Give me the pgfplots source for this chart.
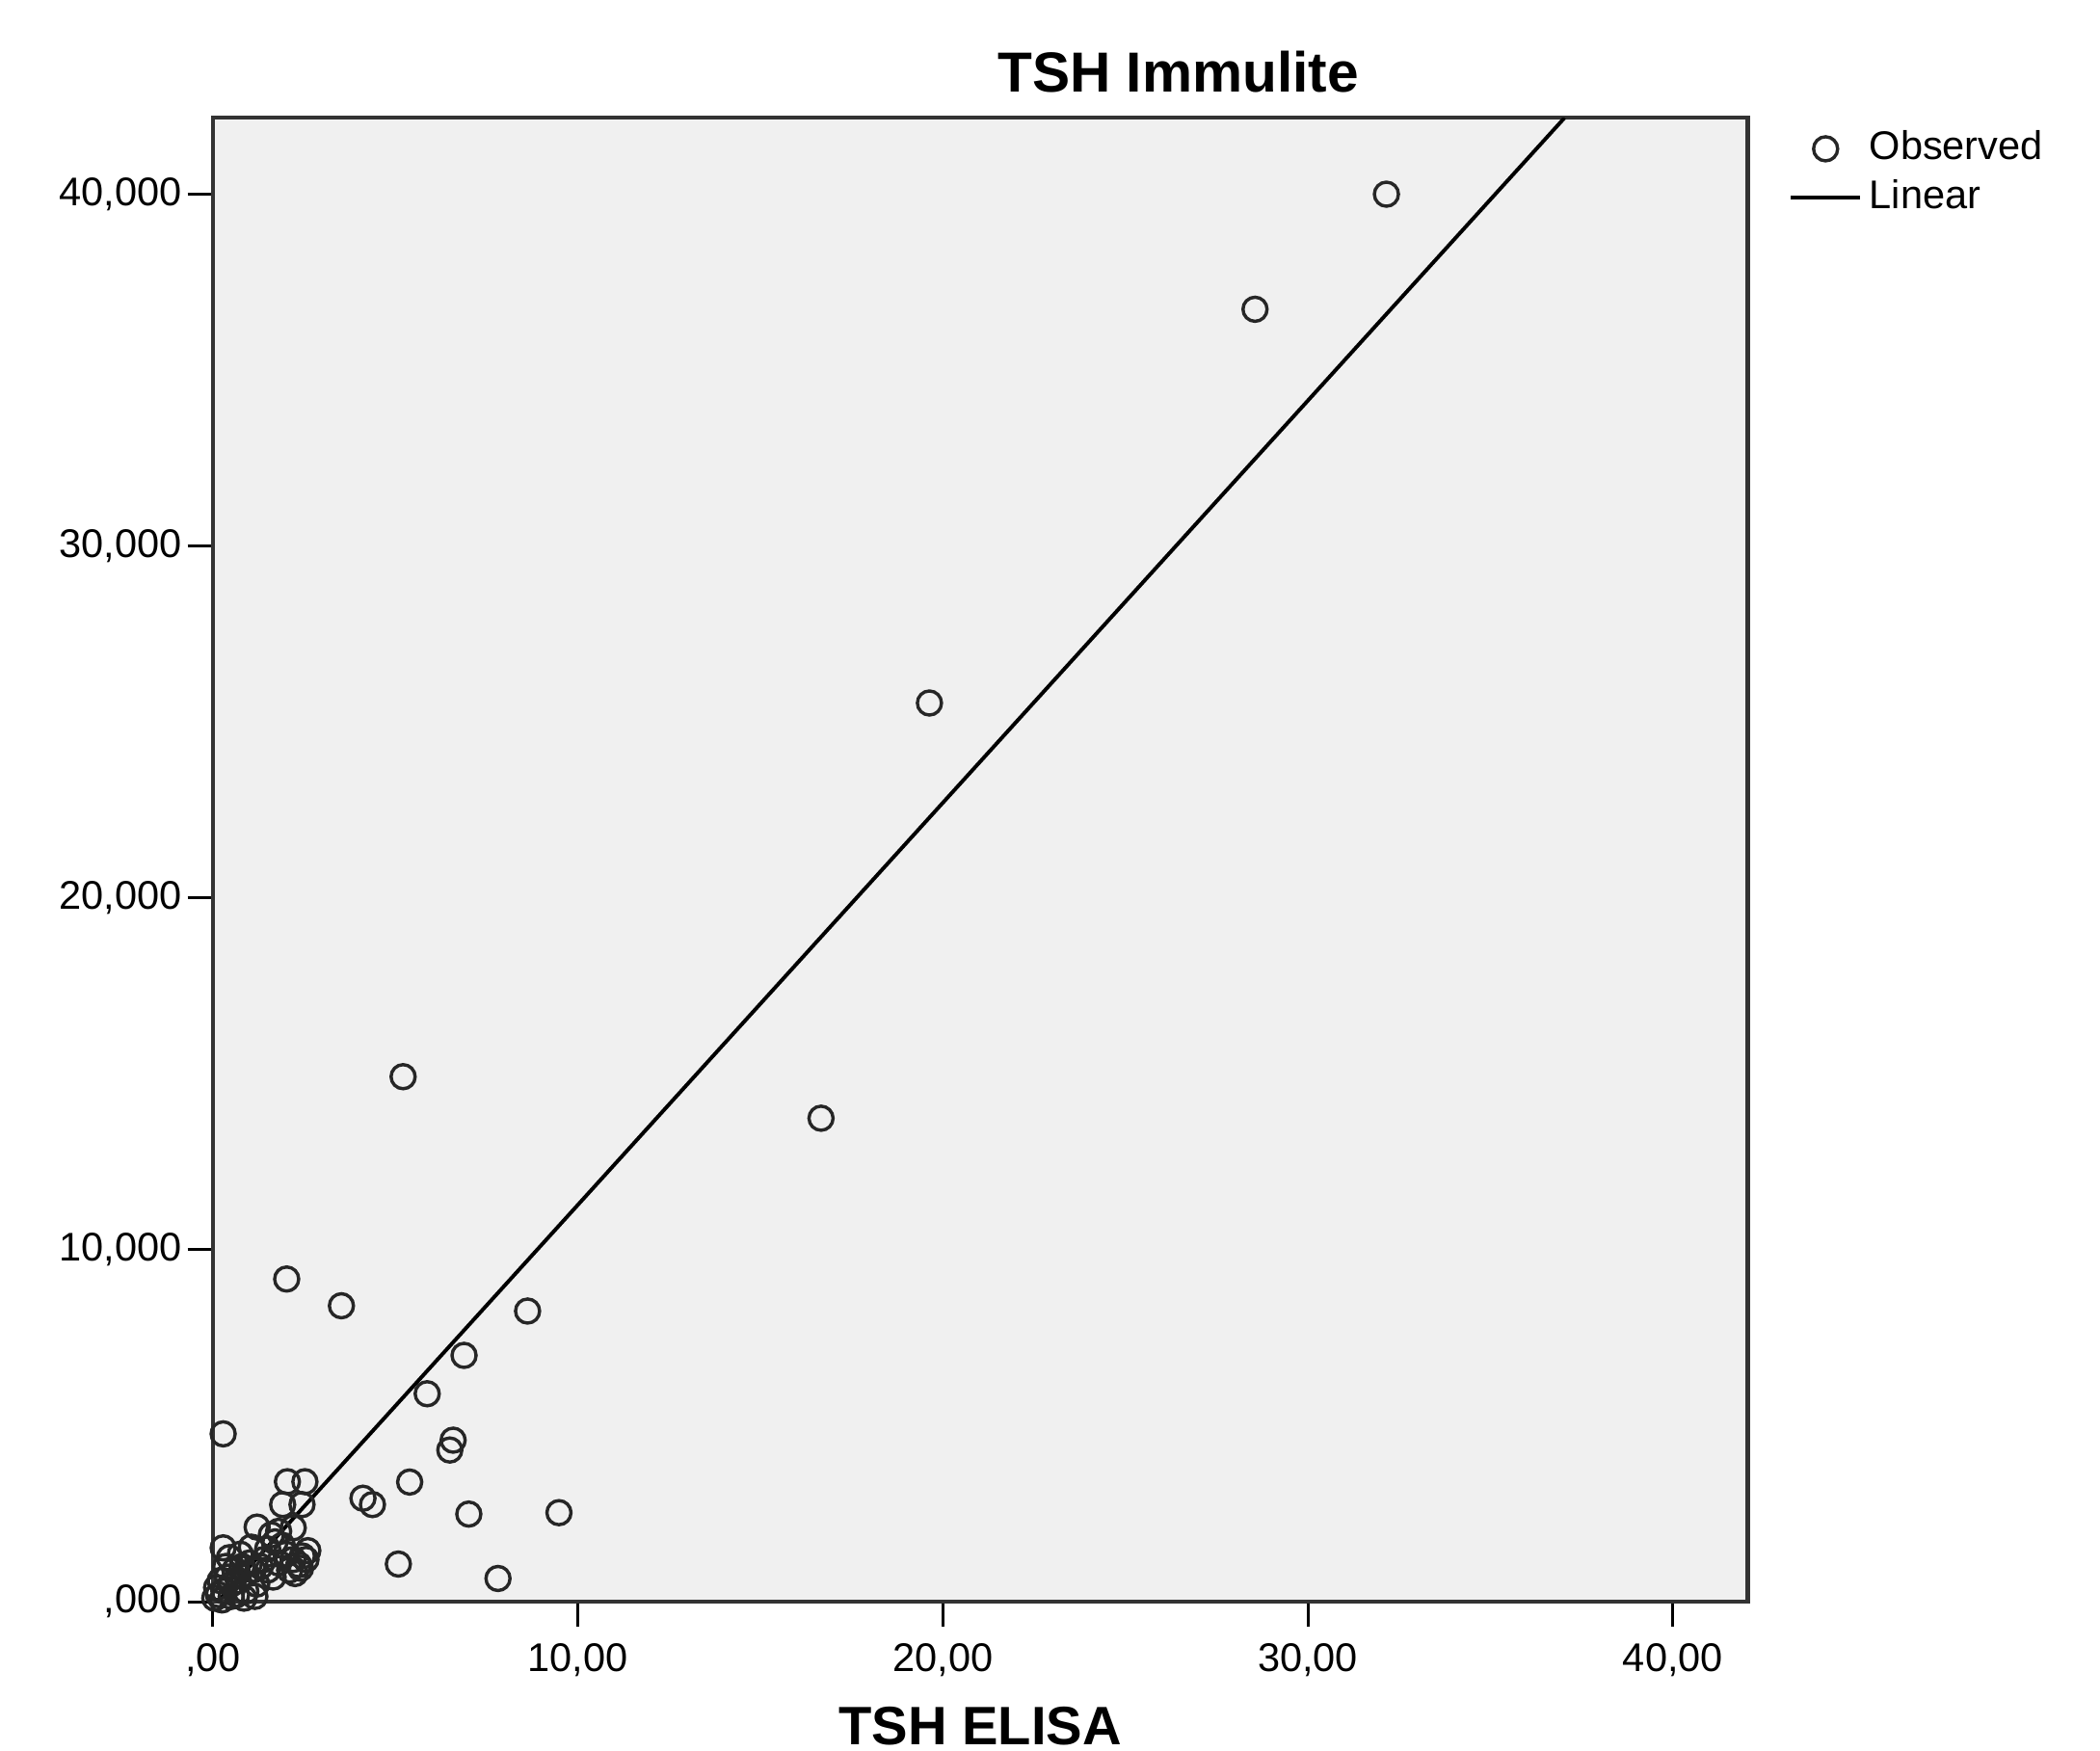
\documentclass[border=0pt]{standalone}
\usepackage{fontspec}
\setmainfont{Liberation Sans}
\usepackage{pgfplots}
\pgfplotsset{compat=1.18}
\definecolor{plotbg}{HTML}{F0F0F0}
\begin{document}
\begin{tikzpicture}
\begin{axis}[
    at={(0,0)}, anchor=south west,
    scale only axis,
    width=11.46cm, height=11.08cm,
    xmin=0, xmax=42.05, ymin=0, ymax=42.17,
    axis background/.style={fill=plotbg},
    axis line style={black!80, line width=0.9pt},
    tick pos=left, tick align=outside,
    major tick length=0.19cm,
    tick style={black, line width=0.6pt},
    minor tick num=0,
    xtick={0,10,20,30,40},
    xticklabels={{,00},{10,00},{20,00},{30,00},{40,00}},
    ytick={0,10,20,30,40},
    yticklabels={{,000},{10,000},{20,000},{30,000},{40,000}},
    ticklabel style={font=\fontsize{8.5}{10}\selectfont},
    yticklabel style={inner sep=1pt},
    title={TSH Immulite},
    title style={at={(axis description cs:0.629,1.012)}, anchor=center,
        font=\bfseries\fontsize{12}{14}\selectfont},
    xlabel={TSH ELISA},
    xlabel style={at={(axis description cs:0.5,0)}, anchor=base, yshift=-1.07cm,
        font=\bfseries\fontsize{11.5}{13}\selectfont},
    legend style={at={(1.017,1.003)}, anchor=north west, draw=none, fill=none,
        font=\fontsize{8.5}{10}\selectfont, row sep=-0.01cm,
        nodes={inner sep=1.5pt}},
    legend cell align=left,
    legend image code/.code={\draw[mark repeat=2,mark phase=2,#1]
        plot coordinates {(0cm,0cm) (0.26cm,0cm) (0.52cm,0cm)};},
]
% observed values
\addplot[only marks, mark=o, mark size=0.09cm,
    mark options={black!85, line width=0.7pt}] coordinates {
(32.15,40.00) (28.55,36.73) (19.63,25.54) (16.66,13.74)
(5.21,14.92) (2.02,9.17) (3.52,8.41) (8.62,8.26)
(6.88,7.00) (5.87,5.91) (6.58,4.59) (6.49,4.31)
(0.28,4.77) (5.39,3.40) (4.11,2.94) (4.37,2.76)
(7.01,2.49) (9.48,2.53) (5.08,1.07) (7.81,0.66)
(2.04,3.41) (2.52,3.41) (1.91,2.76) (2.44,2.76)
(1.21,2.12) (0.28,1.53) (2.20,2.10) (1.90,1.60)
(1.60,1.90) (1.70,1.70) (1.80,2.00) (1.50,1.50)
(1.40,1.20) (1.30,1.00) (1.00,1.10) (1.10,0.90)
(0.90,0.80) (0.80,1.00) (0.70,0.60) (0.60,0.90)
(0.50,0.50) (0.40,0.70) (0.30,0.30) (0.20,0.60)
(0.15,0.20) (0.10,0.40) (0.35,1.00) (0.50,0.15)
(0.25,0.05) (0.65,0.20) (0.90,0.30) (1.20,0.50)
(1.50,0.90) (1.80,1.10) (2.10,0.90) (2.20,1.20)
(2.35,1.05) (2.45,1.30) (2.25,0.80) (2.00,1.35)
(1.65,0.70) (1.15,0.15) (0.85,0.10) (0.05,0.10)
(0.45,1.25) (0.75,1.35) (1.05,1.55) (2.55,1.20)
(2.40,0.95) (2.60,1.45)
};
\addlegendentry{Observed}
% linear fit
\addplot[black, line width=0.8pt] coordinates {
(0.13,0.00) (37.03,42.17)
};
\addlegendentry{Linear}
\end{axis}
\pgfresetboundingbox
\useasboundingbox (-1.59cm,-1.11cm) rectangle (14.09cm,11.96cm);
\end{tikzpicture}
\end{document}
